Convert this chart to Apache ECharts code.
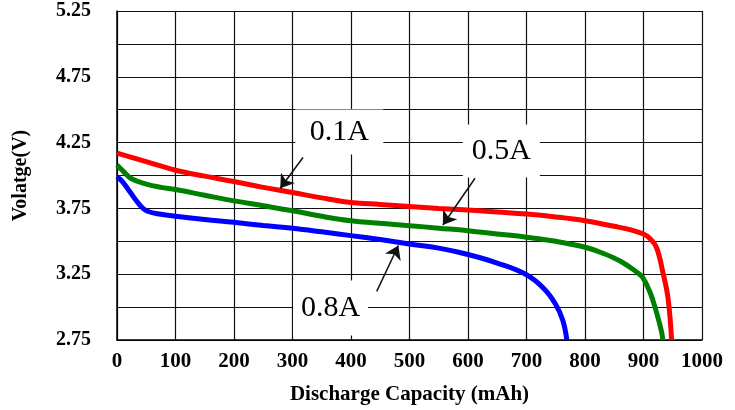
<!DOCTYPE html>
<html>
<head>
<meta charset="utf-8">
<script src="https://cdn.jsdelivr.net/npm/echarts@6/dist/echarts.min.js"></script>
<style>html,body{margin:0;padding:0;background:#fff}#c{width:735px;height:410px}</style>
</head>
<body>
<div id="c"></div>
<script>
// Discharge capacity (mAh) / voltage (V) pairs
const red01X = [0, 50, 100, 150, 200, 250, 300, 350, 400, 450, 500, 550, 600, 650, 700, 750, 800, 850, 880, 900, 910, 922, 933, 942, 948];
const red01Y = [4.17, 4.105, 4.04, 3.995, 3.954, 3.91, 3.871, 3.83, 3.795, 3.78, 3.765, 3.75, 3.737, 3.722, 3.707, 3.685, 3.656, 3.614, 3.585, 3.555, 3.525, 3.455, 3.267, 3.065, 2.75];
const green05X = [0, 10, 25, 50, 75, 100, 150, 200, 250, 300, 350, 400, 450, 500, 550, 600, 650, 700, 750, 800, 830, 860, 888, 898, 911, 922, 931, 933];
const green05Y = [4.08, 4.035, 3.975, 3.935, 3.91, 3.893, 3.85, 3.807, 3.77, 3.732, 3.69, 3.656, 3.637, 3.619, 3.6, 3.581, 3.556, 3.531, 3.5, 3.455, 3.41, 3.35, 3.267, 3.229, 3.115, 2.964, 2.81, 2.75];
const blue08X = [0, 10, 23, 40, 51, 75, 100, 150, 200, 250, 300, 350, 400, 450, 500, 550, 600, 650, 700, 730, 750, 762, 769];
const blue08Y = [3.99, 3.95, 3.87, 3.77, 3.73, 3.705, 3.69, 3.665, 3.644, 3.62, 3.599, 3.572, 3.543, 3.513, 3.48, 3.448, 3.40, 3.335, 3.246, 3.14, 3.02, 2.9, 2.75];

const seriesNames = ['0.1A', '0.5A', '0.8A'];
const yTickLabels = [2.75, 3.25, 3.75, 4.25, 4.75, 5.25];
const xTickLabels = [0, 100, 200, 300, 400, 500, 600, 700, 800, 900, 1000];

// annotation: label position and arrow start/end in data units
const labelPos = [[380, 4.33], [657, 4.187], [365, 2.993]];
const arrowFrom = [[318, 4.137], [612, 3.979], [444, 3.12]];
const arrowTo = [[279, 3.903], [557, 3.624], [481, 3.468]];
const labelBox = [[88, 45], [77, 53], [75, 55]];

const zip = (xs, ys) => xs.map((x, i) => [x, ys[i]]);
const FONT = 'Liberation Serif';

const colors = ['#ff0000', '#008000', '#0000ff'];
const dataSets = [zip(red01X, red01Y), zip(green05X, green05Y), zip(blue08X, blue08Y)];

const series = dataSets.map((d, i) => ({
  name: seriesNames[i],
  type: 'line',
  data: d,
  showSymbol: false,
  symbol: 'none',
  smooth: 0.4,
  lineStyle: { color: colors[i], width: 5 },
  z: 3
}));

series.push({
  type: 'line',
  data: [],
  silent: true,
  z: 5,
  markPoint: {
    silent: true,
    data: seriesNames.map((n, i) => ({
      coord: labelPos[i],
      symbol: 'rect',
      symbolSize: labelBox[i],
      itemStyle: { color: '#ffffff' },
      label: { show: true, position: 'inside', formatter: n, color: '#000', fontFamily: FONT, fontSize: 30 }
    }))
  },
  markLine: {
    silent: true,
    symbol: ['none', 'arrow'],
    symbolSize: 13,
    label: { show: false },
    lineStyle: { color: '#111', width: 1.5, type: 'solid' },
    data: seriesNames.map((n, i) => [{ coord: arrowFrom[i] }, { coord: arrowTo[i] }])
  }
});

const chart = echarts.init(document.getElementById('c'), null, { renderer: 'canvas' });
chart.setOption({
  animation: false,
  backgroundColor: '#ffffff',
  grid: { left: 117, right: 33, top: 11, bottom: 68, show: false },
  xAxis: {
    type: 'value',
    min: xTickLabels[0],
    max: xTickLabels[xTickLabels.length - 1],
    interval: 100,
    name: 'Discharge Capacity (mAh)',
    nameLocation: 'middle',
    nameGap: 44,
    nameTextStyle: { fontFamily: FONT, fontWeight: 'bold', fontSize: 21, color: '#000' },
    axisLine: { lineStyle: { color: '#000', width: 1.5 } },
    axisTick: { show: false },
    splitLine: { show: true, lineStyle: { color: '#111', width: 1.2 } },
    axisLabel: { fontFamily: FONT, fontWeight: 'bold', fontSize: 21, color: '#000', margin: 11,
      formatter: v => String(v) }
  },
  yAxis: {
    type: 'value',
    min: 2.75,
    max: 5.25,
    interval: 0.25,
    name: 'Volatge(V)',
    nameLocation: 'middle',
    nameGap: 86,
    nameRotate: 90,
    nameTextStyle: { fontFamily: FONT, fontWeight: 'bold', fontSize: 20, color: '#000' },
    axisLine: { show: true, lineStyle: { color: '#000', width: 1.5 } },
    axisTick: { show: false },
    splitLine: { show: true, lineStyle: { color: '#111', width: 1.2 } },
    axisLabel: {
      fontFamily: FONT, fontWeight: 'bold', fontSize: 20, color: '#000', margin: 26,
      formatter: v => yTickLabels.some(t => Math.abs(t - v) < 1e-6) ? v.toFixed(2) : ''
    }
  },
  series: series
});
</script>
</body>
</html>
